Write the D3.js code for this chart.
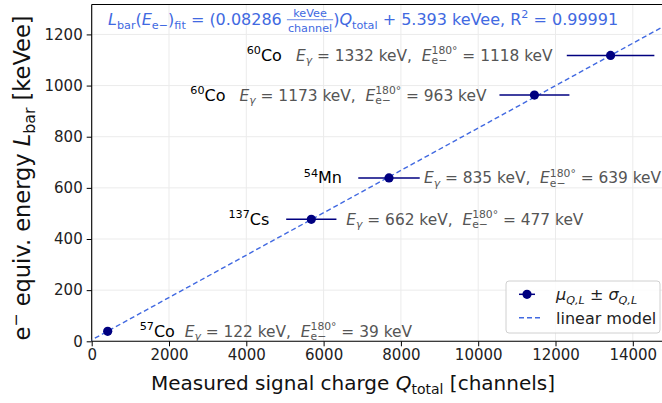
<!DOCTYPE html>
<html>
<head>
<meta charset="utf-8">
<script src="https://cdn.jsdelivr.net/npm/d3@7"></script>
<style>
  body { margin: 0; background: #fff; }
  text { font-family: "DejaVu Sans", sans-serif; white-space: pre; }
</style>
</head>
<body>
<div id="chart"></div>
<script>
w = 662;
h = 403;

// measured calibration points
massNumbers = ['57', '137', '54', '60', '60'];
elements = ['Co', 'Cs', 'Mn', 'Co', 'Co'];
eGamma = [122, 662, 835, 1173, 1332];      // keV
eEdge = [39, 477, 639, 963, 1118];         // keV, 180 deg compton edge
qMean = [414, 5682, 7692, 11455, 13425];   // channels
qSigma = [40, 650, 795, 905, 1133];
lMean = [39, 477, 639, 963, 1118];         // keVee

// fit results
slope = 0.08286;
intercept = 5.393;
rSquared = 0.99991;

xTicks = [0, 2000, 4000, 6000, 8000, 10000, 12000, 14000];
yTicks = [0, 200, 400, 600, 800, 1000, 1200];

// label placement (pixel offsets from the point), iso = isotope, txt = energies
// iso null -> isotope sits just left of the energy text
labelLayout = [
	{iso: 32, isoAnchor: 'start', txt: 77, txtAnchor: 'start'},
	{iso: -42, isoAnchor: 'end', txt: 35, txtAnchor: 'start'},
	{iso: -47, isoAnchor: 'end', txt: 35, txtAnchor: 'start'},
	{iso: null, isoAnchor: 'end', txt: -48, txtAnchor: 'end'},
	{iso: null, isoAnchor: 'end', txt: -58, txtAnchor: 'end'}
];

var pLeft = 91.7, pBottom = 341.3, pTop = 4.5;
xScale = d3.scaleLinear().domain([0, 16000]).range([pLeft, pLeft + 16000 * 0.03865]);
yScale = d3.scaleLinear().domain([0, 1317]).range([pBottom, pTop]);

var svg = d3.select('#chart').append('svg')
	.attr('width', w)
	.attr('height', h);

// draws text made of plain / italic / sub / sup / fraction pieces, returns its left x
function richText(parent, x, y, segs, o) {
	var f = o.size;
	var g = parent.append('g').attr('fill', o.fill);
	var cx = 0;
	function put(t, dy, size, italic) {
		var el = g.append('text')
			.attr('x', cx).attr('y', dy)
			.attr('font-size', size)
			.attr('font-style', italic ? 'italic' : null)
			.text(t);
		return el.node().getComputedTextLength();
	}
	segs.forEach(function(s) {
		if (s.num) {
			var fs = f * 0.7;
			var tmp1 = g.append('text').attr('font-size', fs).text(s.num);
			var tmp2 = g.append('text').attr('font-size', fs).text(s.den);
			var wn = tmp1.node().getComputedTextLength(), wd = tmp2.node().getComputedTextLength();
			var wf = Math.max(wn, wd) + 2;
			tmp1.attr('x', cx + (wf - wn) / 2).attr('y', -f * 0.5);
			tmp2.attr('x', cx + (wf - wd) / 2).attr('y', f * 0.42);
			g.append('line').attr('x1', cx).attr('x2', cx + wf)
				.attr('y1', -f * 0.33).attr('y2', -f * 0.33)
				.attr('stroke', o.fill).attr('stroke-width', 0.8);
			cx += wf;
		} else if (s.sup !== undefined || s.sub !== undefined) {
			var w1 = s.sup ? put(s.sup, -f * 0.42, f * 0.7, s.i) : 0;
			var w2 = s.sub ? put(s.sub, f * 0.22, f * 0.7, s.i) : 0;
			cx += Math.max(w1, w2);
		} else {
			cx += put(s.t, 0, f, s.i);
		}
	});
	var shift = o.anchor === 'end' ? -cx : (o.anchor === 'middle' ? -cx / 2 : 0);
	g.attr('transform', 'translate(' + x + ',' + y + ')' + (o.rotate ? ' rotate(' + o.rotate + ')' : '') + ' translate(' + shift + ',0)');
	return x + shift;
}

// grid
svg.append('g').selectAll('line').data(xTicks).enter().append('line')
	.attr('x1', function(d) { return xScale(d); }).attr('x2', function(d) { return xScale(d); })
	.attr('y1', pTop).attr('y2', pBottom)
	.attr('stroke', '#ebebeb').attr('stroke-width', 1);
svg.append('g').selectAll('line').data(yTicks).enter().append('line')
	.attr('x1', pLeft).attr('x2', w)
	.attr('y1', function(d) { return yScale(d); }).attr('y2', function(d) { return yScale(d); })
	.attr('stroke', '#ebebeb').attr('stroke-width', 1);

// axes
xAxis = d3.axisBottom(xScale).tickValues(xTicks).tickSize(5).tickPadding(3).tickFormat(d3.format('d'));
xAxisG = svg.append('g').attr('transform', 'translate(0,' + pBottom + ')').call(xAxis);
yAxis = d3.axisLeft(yScale).tickValues(yTicks).tickSize(5).tickPadding(4).tickFormat(d3.format('d'));
yAxisG = svg.append('g').attr('transform', 'translate(' + pLeft + ',0)').call(yAxis);
[xAxisG, yAxisG].forEach(function(a) {
	a.select('.domain').remove();
	a.selectAll('text').attr('font-size', 15).attr('fill', '#222').attr('font-family', 'DejaVu Sans');
	a.selectAll('line').attr('stroke', '#000').attr('stroke-width', 1);
});

// spines
svg.append('line').attr('x1', pLeft).attr('x2', w).attr('y1', pBottom).attr('y2', pBottom).attr('stroke', '#000').attr('stroke-width', 1.1);
svg.append('line').attr('x1', pLeft).attr('x2', w).attr('y1', pTop).attr('y2', pTop).attr('stroke', '#000').attr('stroke-width', 1.1);
svg.append('line').attr('x1', pLeft).attr('x2', pLeft).attr('y1', pTop).attr('y2', pBottom).attr('stroke', '#000').attr('stroke-width', 1.1);

// fit line
svg.append('clipPath').attr('id', 'plotclip').append('rect')
	.attr('x', pLeft).attr('y', pTop).attr('width', w - pLeft).attr('height', pBottom - pTop);
svg.append('line')
	.attr('clip-path', 'url(#plotclip)')
	.attr('x1', xScale(-100)).attr('y1', yScale(intercept - slope * 100))
	.attr('x2', xScale(16000)).attr('y2', yScale(intercept + slope * 16000))
	.attr('stroke', '#4169e1').attr('stroke-width', 1.4).attr('stroke-dasharray', '5,3');

// error bars and points
var pts = svg.append('g');
qMean.forEach(function(q, i) {
	pts.append('line')
		.attr('x1', xScale(q - qSigma[i])).attr('x2', xScale(q + qSigma[i]))
		.attr('y1', yScale(lMean[i])).attr('y2', yScale(lMean[i]))
		.attr('stroke', '#000080').attr('stroke-width', 1.5);
	pts.append('circle')
		.attr('cx', xScale(q)).attr('cy', yScale(lMean[i]))
		.attr('r', 4.6).attr('fill', '#000080');
});

// labels
var fs = 15.4;
qMean.forEach(function(q, i) {
	var px = xScale(q), py = yScale(lMean[i]) + 5.5;
	var L = labelLayout[i];
	var txtLeft = richText(svg, px + L.txt, py, [
		{t: 'E', i: 1}, {sub: 'γ', i: 1}, {t: ' = ' + eGamma[i] + ' keV,  '},
		{t: 'E', i: 1}, {sup: '180°', sub: 'e−'}, {t: ' = ' + eEdge[i] + ' keV'}
	], {size: fs, fill: '#555', anchor: L.txtAnchor});
	var isoX = L.iso === null ? txtLeft - 14 : px + L.iso;
	richText(svg, isoX, py, [{sup: massNumbers[i]}, {t: elements[i]}],
		{size: 16, fill: '#000', anchor: L.isoAnchor});
});

// fit equation
richText(svg, 108, 25, [
	{t: 'L', i: 1}, {sub: 'bar'}, {t: '('}, {t: 'E', i: 1}, {sub: 'e−'}, {t: ')'}, {sub: 'fit'},
	{t: ' = (' + slope + ' '}, {num: 'keVee', den: 'channel'}, {t: ')'},
	{t: 'Q', i: 1}, {sub: 'total'}, {t: ' + ' + intercept + ' keVee, R'}, {sup: '2'},
	{t: ' = ' + rSquared}
], {size: 16, fill: '#4169e1', anchor: 'start'});

// axis labels
richText(svg, 353, 390, [
	{t: 'Measured signal charge '}, {t: 'Q', i: 1}, {sub: 'total'}, {t: ' [channels]'}
], {size: 20, fill: '#111', anchor: 'middle'});
richText(svg, 30, 178, [
	{t: 'e'}, {sup: '−'}, {t: ' equiv. energy '}, {t: 'L', i: 1}, {sub: 'bar'}, {t: ' [keVee]'}
], {size: 22.5, fill: '#111', anchor: 'middle', rotate: -90});

// legend
var lg = svg.append('g');
lg.append('rect').attr('x', 506).attr('y', 281).attr('width', 154).attr('height', 52)
	.attr('rx', 3).attr('fill', '#fff').attr('fill-opacity', 0.85)
	.attr('stroke', '#d0d0d0').attr('stroke-width', 1);
lg.append('line').attr('x1', 519).attr('x2', 535).attr('y1', 294.3).attr('y2', 294.3)
	.attr('stroke', '#000080').attr('stroke-width', 1.5);
lg.append('circle').attr('cx', 527).attr('cy', 294.3).attr('r', 4.6).attr('fill', '#000080');
richText(lg, 556, 300, [
	{t: 'μ', i: 1}, {sub: 'Q,L', i: 1}, {t: ' ± '}, {t: 'σ', i: 1}, {sub: 'Q,L', i: 1}
], {size: 16, fill: '#222', anchor: 'start'});
lg.append('line').attr('x1', 519).attr('x2', 543).attr('y1', 317.7).attr('y2', 317.7)
	.attr('stroke', '#4169e1').attr('stroke-width', 1.4).attr('stroke-dasharray', '5,3');
richText(lg, 556, 323.5, [{t: 'linear model'}], {size: 16, fill: '#222', anchor: 'start'});
</script>
</body>
</html>
